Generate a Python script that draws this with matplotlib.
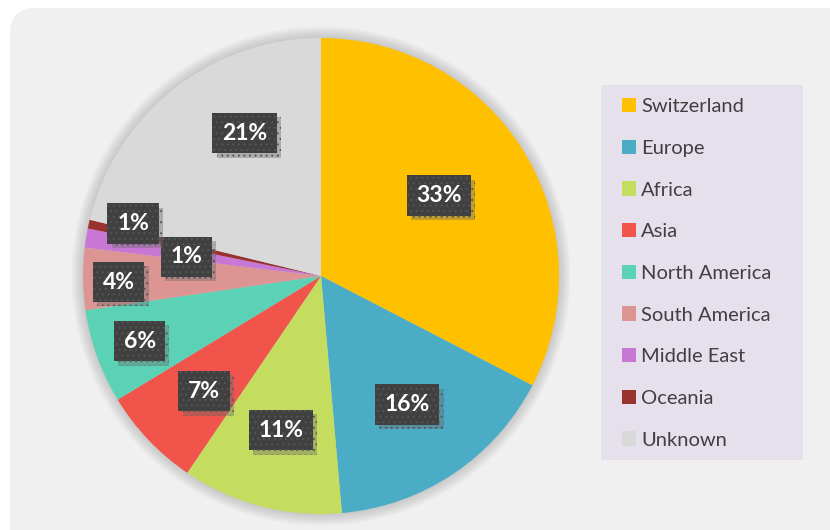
import numpy as np
import matplotlib
matplotlib.use('Agg')
import matplotlib.pyplot as plt
import matplotlib.patheffects as pe
from matplotlib.patches import FancyBboxPatch, Rectangle, Circle

plt.rcParams['font.family'] = ['Lato', 'DejaVu Sans']
plt.rcParams['hatch.linewidth'] = 0.7

# data
regions = ['Switzerland', 'Europe', 'Africa', 'Asia', 'North America',
           'South America', 'Middle East', 'Oceania', 'Unknown']
shares = [32.6, 16.0, 10.9, 6.8, 6.4, 4.2, 1.3, 0.6, 21.2]
pct_labels = ['33%', '16%', '11%', '7%', '6%', '4%', '1%', '1%', '21%']

colors = ['#ffc000', '#4bacc6', '#c5dd5e', '#f0544a', '#5bd2b6',
          '#dc9593', '#c878d4', '#99312f', '#d9d9d9']
# where the label boxes sit (fraction of radius, angle nudge in degrees)
label_r = [0.60, 0.65, 0.67, 0.69, 0.81, 0.85, 0.57, 0.82, 0.68]
label_dang = [3, 0, 0, 1, 0, 1, 1, -3, -10]

fig = plt.figure(figsize=(8.3, 5.3), dpi=100)
fig.patch.set_facecolor('white')
W, H = 830, 530

# light grey rounded panel (inches)
panel = FancyBboxPatch((0.10, -1.0), 9.0, 6.22,
                       boxstyle='round,pad=0,rounding_size=0.25',
                       transform=fig.dpi_scale_trans, fc='#f0f0f0',
                       ec='none', zorder=-2)
fig.patches.append(panel)

# legend panel
fig.patches.append(Rectangle((601 / W, 1 - 460 / H), 202 / W, 375 / H,
                             transform=fig.transFigure, fc='#e6e0ec',
                             ec='none', zorder=-1))

cx, cy, R = 321, 276, 238
ax = fig.add_axes([(cx - R) / W, (H - cy - R) / H, 2 * R / W, 2 * R / H])
ax.set_facecolor('none')

# soft blurred edge round the pie
for k in range(8):
    ax.add_patch(Circle((0, 0), 1.0 + 0.006 * (k + 1), fc='#8c8c8c',
                        ec='none', alpha=0.05, zorder=0, clip_on=False))

wedges, _ = ax.pie(shares, colors=colors, startangle=90, counterclock=False,
                   radius=1.0, wedgeprops=dict(linewidth=0))
for w in wedges:
    w.set_zorder(2)

for w, txt, r, da in zip(wedges, pct_labels, label_r, label_dang):
    ang = np.deg2rad((w.theta1 + w.theta2) / 2 + da)
    x, y = r * np.cos(ang), r * np.sin(ang)
    t = ax.text(x, y, txt, ha='center', va='center', fontsize=16.5,
                fontweight='bold', color='white', zorder=4,
                bbox=dict(boxstyle='square,pad=0.42', fc='#404040',
                          ec='#565656', hatch='...', lw=0))
    t.get_bbox_patch().set_path_effects([
        pe.SimplePatchShadow(offset=(3, -3), shadow_rgbFace='#6a6a6a',
                             alpha=0.4),
        pe.Normal()])

ax.set_xlim(-1, 1)
ax.set_ylim(-1, 1)
ax.set_aspect('equal')
ax.axis('off')

handles = [Rectangle((0, 0), 1, 1, fc=c, ec='none') for c in colors]
leg = fig.legend(handles, regions, loc='upper left',
                 bbox_to_anchor=(612 / W, 1 - 88 / H), frameon=False,
                 fontsize=14.5, handlelength=0.7, handleheight=0.7,
                 handletextpad=0.25, labelspacing=1.22, borderpad=0)
for t in leg.get_texts():
    t.set_color('#404040')

fig.savefig('out.png', dpi=100, facecolor='white')
